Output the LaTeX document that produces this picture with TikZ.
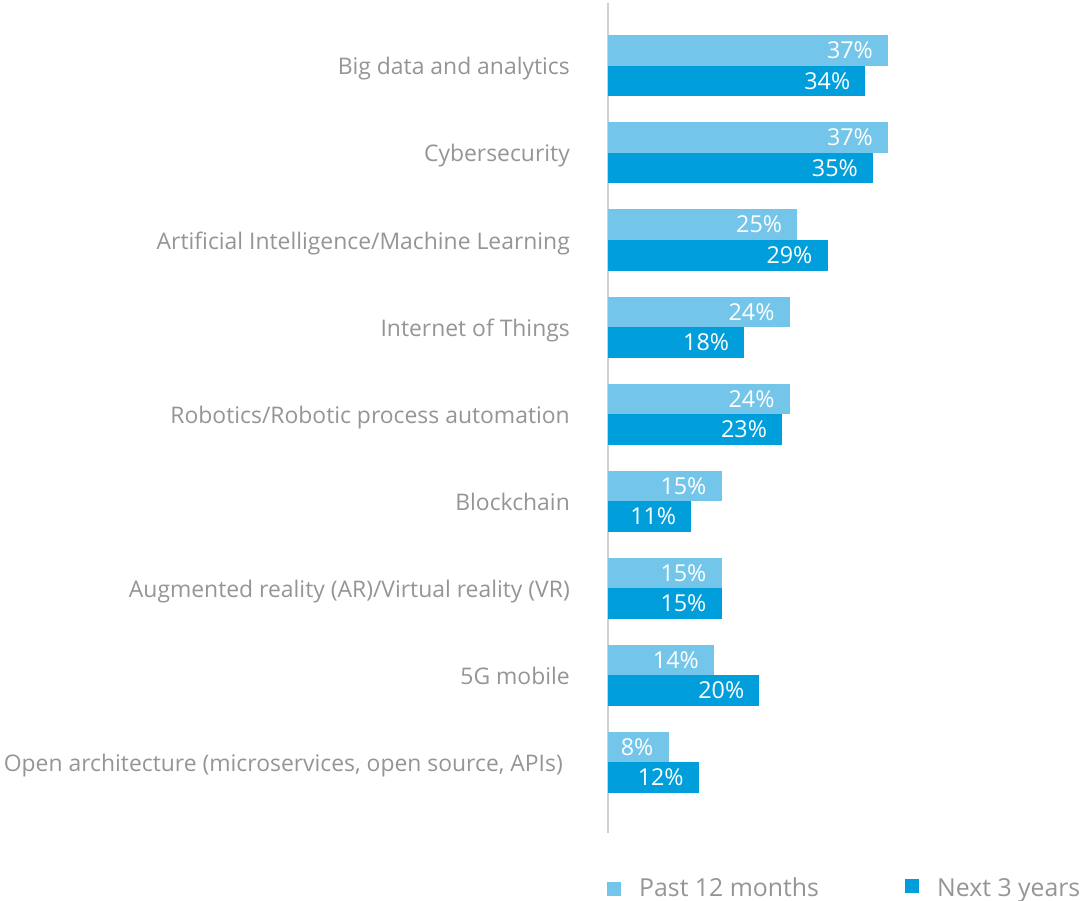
\documentclass[tikz,border=0pt]{standalone}
\usepackage{fontspec}
\setmainfont{Open Sans}
\definecolor{lightbar}{HTML}{73C5E9}
\definecolor{darkbar}{HTML}{009FDB}
\definecolor{labelgray}{HTML}{959595}
\definecolor{axisgray}{HTML}{CFCFCF}
\begin{document}
\begin{tikzpicture}[x=1pt,y=-1pt,
  cat/.style={anchor=base east, text=labelgray, font=\fontsize{22.9}{27}\selectfont, inner sep=0pt},
  pct/.style={anchor=base east, text=white, font=\fontsize{23.3}{27}\selectfont, inner sep=0pt},
  leg/.style={anchor=base west, text=labelgray, font=\fontsize{24.8}{30}\selectfont, inner sep=0pt},
  barA/.style={fill=lightbar, draw=none},
  barB/.style={fill=darkbar, draw=none}]
\useasboundingbox (0,0) rectangle (1083,901);
\coordinate (axtop) at (608,3);
\coordinate (axbot) at (608,833);
\draw[axisgray, line width=2pt] (axtop) -- (axbot);
\foreach \i/\lab/\a/\b/\rx in {
  1/{Big data and analytics}/37/34/570,
  2/{Cybersecurity}/37/35/570,
  3/{Artificial Intelligence/Machine Learning}/25/29/570,
  4/{Internet of Things}/24/18/570,
  5/{Robotics/Robotic process automation}/24/23/570,
  6/{Blockchain}/15/11/570,
  7/{Augmented reality (AR)/Virtual reality (VR)}/15/15/570,
  8/{5G mobile}/14/20/570,
  9/{Open architecture (microservices, open source, APIs)}/8/12/563}{
  \pgfmathsetmacro\t{35.5+87*(\i-1)}
  \pgfmathsetmacro\m{\t+30.5}
  \pgfmathsetmacro\bt{\m+30.5}
  \pgfmathsetmacro\ea{608+7.57*\a}
  \pgfmathsetmacro\eb{608+7.57*\b}
  \fill[barA] (608,\t) rectangle (\ea,\m);
  \fill[barB] (608,\m) rectangle (\eb,\bt);
  \node[pct] (pa\i) at (\ea-15,\t+23.5) {\a\%};
  \node[pct] (pb\i) at (\eb-15,\m+23.5) {\b\%};
  \node[cat] (lab\i) at (\rx,\t+39.5) {\lab};
}
\fill[lightbar] (607,882) rectangle (621,896);
\node[leg] (legA) at (639,896) {Past 12 months};
\fill[darkbar] (905,879) rectangle (919,893);
\node[leg] (legB) at (937,896) {Next 3 years};
\end{tikzpicture}
\end{document}
